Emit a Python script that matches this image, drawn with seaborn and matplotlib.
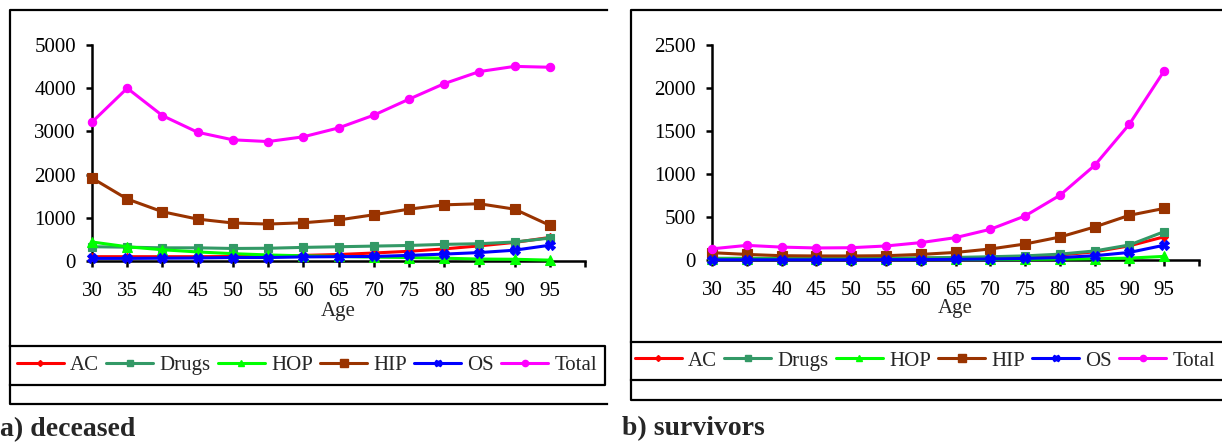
import matplotlib
matplotlib.use("Agg")
import matplotlib.pyplot as plt
from matplotlib.lines import Line2D
import numpy as np
import pandas as pd
import seaborn as sns

# ---- data -------------------------------------------------------------
ages = [30, 35, 40, 45, 50, 55, 60, 65, 70, 75, 80, 85, 90, 95]
series_names = ["AC", "Drugs", "HOP", "HIP", "OS", "Total"]

dec_ac = [100, 100, 100, 100, 105, 110, 130, 150, 185, 225, 280, 350, 430, 545]
dec_drugs = [330, 320, 305, 305, 290, 295, 315, 330, 345, 360, 385, 400, 440, 530]
dec_hop = [440, 330, 260, 210, 170, 140, 120, 105, 90, 80, 65, 45, 40, 20]
dec_hip = [1920, 1435, 1140, 970, 880, 855, 885, 950, 1070, 1200, 1300, 1325, 1200, 825]
dec_os = [60, 60, 65, 70, 80, 80, 95, 100, 105, 130, 160, 195, 250, 365]
dec_total = [3215, 4000, 3365, 2980, 2805, 2765, 2875, 3080, 3375, 3745, 4105, 4385, 4505, 4485]

sur_ac = [15, 15, 15, 15, 15, 17, 20, 22, 28, 38, 58, 95, 165, 270]
sur_drugs = [20, 20, 20, 20, 20, 22, 25, 30, 38, 48, 68, 105, 175, 330]
sur_hop = [10, 10, 8, 8, 8, 8, 8, 8, 8, 8, 10, 15, 22, 42]
sur_hip = [85, 65, 50, 47, 47, 50, 65, 88, 128, 186, 267, 384, 520, 600]
sur_os = [3, 3, 3, 3, 3, 4, 5, 8, 12, 18, 28, 50, 88, 172]
sur_total = [130, 170, 150, 140, 143, 163, 202, 260, 357, 512, 752, 1100, 1580, 2200]

deceased = dict(zip(series_names, [dec_ac, dec_drugs, dec_hop, dec_hip, dec_os, dec_total]))
survivors = dict(zip(series_names, [sur_ac, sur_drugs, sur_hop, sur_hip, sur_os, sur_total]))

# ---- styling ----------------------------------------------------------
colors = {"AC": "#FF0000", "Drugs": "#339966", "HOP": "#00FF00",
          "HIP": "#993300", "OS": "#0000FF", "Total": "#FF00FF"}
markers = {"AC": "D", "Drugs": "s", "HOP": "^", "HIP": "s", "OS": "X", "Total": "o"}
msizes = {"AC": 4.0, "Drugs": 5.5, "HOP": 6.5, "HIP": 7.0, "OS": 6.5, "Total": 6.0}

sns.set_style("ticks")
plt.rcParams["font.family"] = ["Liberation Serif", "DejaVu Serif"]
FS = 15

W, H = 1222, 443
fig = plt.figure(figsize=(W / 100, H / 100), dpi=100)


def rect(x0, x1, ytop, ybot):
    return [x0 / W, 1 - ybot / H, (x1 - x0) / W, (ybot - ytop) / H]


def fig_line(xs, ys, lw=1.6):
    fig.add_artist(Line2D([x / W for x in xs], [1 - y / H for y in ys],
                          transform=fig.transFigure, color="black", lw=lw,
                          solid_capstyle="projecting"))


def draw_panel(ax, data, ymax, ystep, label_top):
    long = pd.DataFrame([(a, name, v) for name in series_names
                         for a, v in zip(ages, data[name])],
                        columns=["Age", "series", "value"])
    for name in series_names:
        sub = long[long["series"] == name]
        sns.lineplot(data=sub, x="Age", y="value", ax=ax, color=colors[name],
                     marker=markers[name], markersize=msizes[name],
                     markeredgecolor=colors[name], markeredgewidth=0.8,
                     lw=2.2, clip_on=False, zorder=3, legend=False)
    ax.set_xlim(30, 100)
    ax.set_ylim(0, ymax)
    xt = list(range(30, 101, 5))
    ax.set_xticks(xt)
    ax.set_xticklabels([str(t) if t <= 95 else "" for t in xt], fontsize=FS)
    yt = list(range(0, ymax + 1, ystep))
    ax.set_yticks(yt)
    ax.set_yticklabels([str(t) for t in yt], fontsize=FS)
    for s in ("top", "right"):
        ax.spines[s].set_visible(False)
    for s in ("left", "bottom"):
        ax.spines[s].set_linewidth(1.8)
        ax.spines[s].set_color("black")
    ax.tick_params(axis="both", direction="out", length=4.5, width=1.8, colors="black")
    ax.tick_params(axis="x", pad=10.5)
    ax.tick_params(axis="y", pad=7)
    ax.set_xlabel("Age", fontsize=FS)
    ax.set_ylabel("")
    ax.xaxis.set_label_coords(0.5, label_top)
    ax.xaxis.label.set_va("top")
    ax.set_facecolor("none")


ax1 = fig.add_axes(rect(92, 585, 45, 261))
draw_panel(ax1, deceased, 5000, 1000, (261 - 302) / 216)

ax2 = fig.add_axes(rect(712, 1199, 45, 260))
draw_panel(ax2, survivors, 2500, 500, (260 - 299) / 215)

# ---- chart frames ------------------------------------------------------
# deceased
fig_line([607, 10, 10, 607], [10, 10, 404, 404])
fig_line([10, 605, 605, 10], [346, 346, 385, 385])
# survivors
fig_line([1222, 631, 631, 1222], [10, 10, 400, 400])
fig_line([631, 1222], [342, 342])
fig_line([631, 1222], [380, 380])

# ---- legends -----------------------------------------------------------
handles = [Line2D([], [], color=colors[n], lw=2.2, marker=markers[n],
                  markersize=msizes[n] * 0.75, markeredgecolor=colors[n])
           for n in series_names]
for cx, cy in ((307, 365.5), (925, 361)):
    fig.legend(handles, series_names, loc="center", ncol=6,
               bbox_to_anchor=(cx / W, 1 - cy / H), frameon=False,
               fontsize=FS, handlelength=2.25, handletextpad=0.3,
               columnspacing=0.35, borderpad=0, borderaxespad=0)

# ---- captions ----------------------------------------------------------
fig.text(0 / W, 1 - 436 / H, "a) deceased", fontsize=20, fontweight="bold",
         va="baseline", ha="left")
fig.text(622 / W, 1 - 435 / H, "b) survivors", fontsize=20, fontweight="bold",
         va="baseline", ha="left")

fig.savefig("out.png", dpi=100)
